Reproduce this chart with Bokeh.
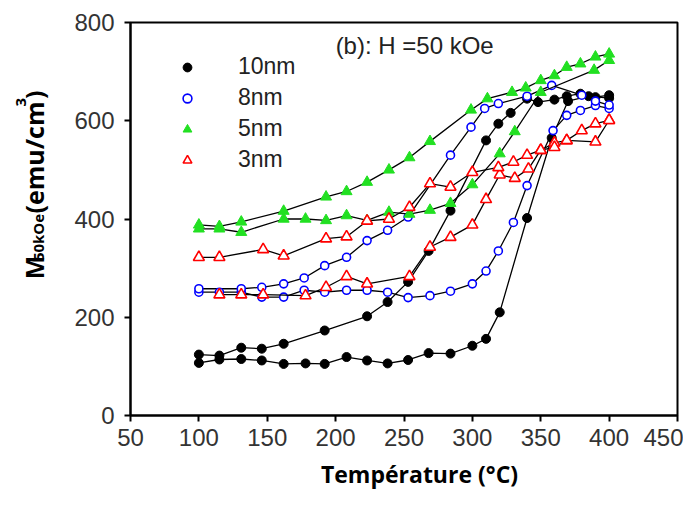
from math import pi
from bokeh.plotting import figure
from bokeh.layouts import row, column
from bokeh.models import Label, Legend, LegendItem, Range1d
from bokeh.embed import file_html
from bokeh.resources import INLINE

# ---------------- data ----------------
x_ticks = [50, 100, 150, 200, 250, 300, 350, 400, 450]
y_ticks = [0, 200, 400, 600, 800]

series_names = ["10nm", "8nm", "5nm", "3nm"]

# 10 nm: branch A (lower) and branch B (upper)
t10_a = [100, 115, 131, 146, 162, 178, 192, 208, 223, 238, 253, 268, 284, 300, 310, 320, 340, 358, 370, 385, 400]
m10_a = [107, 114, 115, 112, 105, 106, 105, 119, 112, 106, 113, 127, 126, 142, 156, 210, 402, 565, 640, 650, 646]
t10_b = [100, 115, 131, 146, 162, 192, 223, 238, 253, 268, 284, 310, 319, 328, 340, 348, 360, 369, 379, 390, 400]
m10_b = [124, 122, 138, 136, 146, 173, 202, 231, 272, 335, 417, 560, 594, 616, 645, 638, 643, 650, 655, 648, 652]

# 8 nm
t8_a = [100, 115, 131, 146, 162, 177, 192, 208, 223, 238, 253, 269, 284, 300, 310, 319, 330, 340, 359, 369, 379, 390, 400]
m8_a = [251, 251, 251, 241, 241, 255, 251, 255, 255, 251, 240, 244, 253, 268, 294, 335, 393, 468, 580, 611, 621, 631, 625]
t8_b = [100, 131, 146, 162, 177, 192, 208, 223, 238, 253, 284, 299, 309, 319, 340, 358, 380, 390, 400]
m8_b = [258, 258, 261, 268, 280, 305, 322, 356, 377, 404, 530, 587, 625, 635, 650, 672, 652, 640, 632]

# 5 nm
t5_a = [100, 115, 131, 162, 178, 193, 208, 223, 239, 254, 269, 284, 300, 320, 331, 350, 389, 400]
m5_a = [380, 380, 373, 400, 400, 397, 407, 397, 414, 410, 418, 432, 470, 533, 578, 658, 703, 723]
t5_b = [100, 115, 131, 162, 193, 208, 223, 239, 254, 269, 299, 311, 329, 339, 350, 360, 369, 379, 390, 400]
m5_b = [388, 385, 394, 416, 445, 456, 475, 500, 525, 558, 622, 645, 658, 667, 682, 692, 709, 716, 730, 736]

# 3 nm
t3_a = [115, 131, 147, 178, 193, 208, 223, 254, 269, 284, 300, 310, 320, 331, 341, 350, 360, 369, 390, 400]
m3_a = [246, 246, 246, 244, 261, 283, 268, 283, 343, 363, 388, 440, 490, 483, 502, 540, 555, 560, 557, 601]
t3_b = [100, 115, 147, 162, 193, 208, 223, 239, 254, 269, 284, 300, 319, 330, 340, 350, 360, 369, 380, 390, 400]
m3_b = [322, 322, 338, 325, 360, 364, 396, 400, 424, 472, 465, 495, 505, 516, 530, 540, 546, 560, 580, 594, 601]

# ---------------- layout sizes ----------------
TOTAL_W, TOTAL_H = 683, 490
YLAB_W = 50
MAIN_H = 457
XLAB_H = TOTAL_H - MAIN_H

# ---------------- main figure ----------------
p = figure(width=TOTAL_W - YLAB_W, height=MAIN_H,
           x_range=Range1d(50, 450), y_range=Range1d(0, 800),
           output_backend="svg", toolbar_location=None,
           min_border_left=80, min_border_right=6,
           min_border_top=22, min_border_bottom=42)

p.xgrid.visible = False
p.ygrid.visible = False
p.outline_line_color = "black"
p.outline_line_width = 2
p.background_fill_color = "white"
p.border_fill_color = "white"

for ax in (p.xaxis[0], p.yaxis[0]):
    ax.axis_line_color = "black"
    ax.axis_line_width = 2
    ax.major_tick_line_color = "black"
    ax.major_tick_line_width = 2
    ax.major_tick_out = 6
    ax.major_tick_in = 0
    ax.minor_tick_line_color = None
    ax.major_label_text_font = "Liberation Sans"
    ax.major_label_text_font_size = "24px"
    ax.major_label_text_color = "#333333"

p.xaxis.ticker = x_ticks
p.yaxis.ticker = y_ticks
p.xaxis.major_label_standoff = 7
p.yaxis.major_label_standoff = 10

line_kw = dict(line_color="black", line_width=1.3)

styles = [
    dict(marker="circle", size=9, fill_color="black", line_color="black", line_width=1),
    dict(marker="circle", size=8, fill_color="white", line_color="#0000ff", line_width=1.6),
    dict(marker="triangle", size=11, fill_color="#22e022", line_color="#22e022", line_width=1),
    dict(marker="triangle", size=11, fill_color="white", line_color="#ff0000", line_width=1.6),
]
data = [
    (t10_a, m10_a, t10_b, m10_b),
    (t8_a, m8_a, t8_b, m8_b),
    (t5_a, m5_a, t5_b, m5_b),
    (t3_a, m3_a, t3_b, m3_b),
]

legend_items = []
for name, st, (xa, ya, xb, yb) in zip(series_names, styles, data):
    p.line(xa, ya, **line_kw)
    p.line(xb, yb, **line_kw)
    r1 = p.scatter(xa, ya, **st)
    p.scatter(xb, yb, **st)
    legend_items.append(LegendItem(label=name, renderers=[r1]))

legend = Legend(items=legend_items, location=(46, 242),
                glyph_width=22, glyph_height=26, label_height=26,
                label_standoff=40, spacing=4, padding=0, margin=0,
                border_line_color=None, background_fill_alpha=0,
                label_text_font="Liberation Sans", label_text_font_size="23px",
                label_text_color="#222222")
p.add_layout(legend, "center")

p.add_layout(Label(x=200, y=753, text="(b): H =50 kOe", text_baseline="middle",
                   text_font="Liberation Sans", text_font_size="24px",
                   text_color="#222222"))

# ---------------- helper panels for axis titles ----------------
def blank_fig(w, h):
    f = figure(width=w, height=h, x_range=Range1d(0, w), y_range=Range1d(0, h),
               output_backend="svg", toolbar_location=None,
               x_axis_location=None, y_axis_location=None,
               min_border=0, min_border_left=0, min_border_right=0,
               min_border_top=0, min_border_bottom=0)
    f.xgrid.visible = False
    f.ygrid.visible = False
    f.outline_line_color = None
    f.background_fill_color = "white"
    f.border_fill_color = "white"
    return f

# y-axis title: M_50kOe (emu/cm^3), built from rotated pieces (centres in panel px)
yfig = blank_fig(YLAB_W, MAIN_H)
yl_common = dict(angle=pi / 2, text_align="center", text_baseline="middle",
                 text_font="Open Sans", text_font_style="bold", text_color="black")
y_pieces = [
    # text, centre x, centre y (from panel bottom), font size
    ("M", 33, MAIN_H - 285, "25px"),
    ("50kOe", 37, MAIN_H - 250, "15px"),
    ("(emu/cm", 33, MAIN_H - 157, "25px"),
    ("3", 20, MAIN_H - 92.7, "15px"),
    (")", 33, MAIN_H - 84, "25px"),
]
for txt, cx, cy, fs in y_pieces:
    yfig.add_layout(Label(x=cx, y=cy, text=txt, text_font_size=fs, **yl_common))

# x-axis title
xfig = blank_fig(TOTAL_W, XLAB_H)
xfig.add_layout(Label(x=419, y=17, text="Température (°C)", text_align="center",
                      text_baseline="middle", text_font="Open Sans", text_font_style="bold",
                      text_font_size="23px", text_color="black"))

layout = column(row(yfig, p, spacing=0), xfig, spacing=0)

open("out.html", "w").write(file_html(layout, INLINE))
